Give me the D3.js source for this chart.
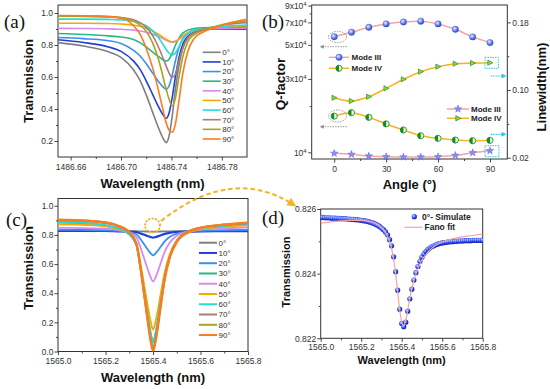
<!DOCTYPE html>
<html>
<head>
<meta charset="utf-8">
<script src="https://cdn.jsdelivr.net/npm/d3@7"></script>
<style>
  body { margin: 0; background: #fff; }
  svg { display: block; }
</style>
</head>
<body>
<script>
// ---------- data ----------
const angles = ["0°", "10°", "20°", "30°", "40°", "50°", "60°", "70°", "80°", "90°"];

// (a) transmission around 1486.74 nm, one row per angle
const lamA = [1486.650, 1486.670, 1486.690, 1486.700, 1486.710, 1486.715, 1486.720, 1486.725, 1486.729, 1486.732,
  1486.734, 1486.736, 1486.738, 1486.7405, 1486.743, 1486.746, 1486.749, 1486.753, 1486.758, 1486.765,
  1486.775, 1486.785, 1486.800];
const transA = [
  [0.815, 0.794, 0.758, 0.723, 0.644, 0.580, 0.488, 0.382, 0.297, 0.240, 0.208, 0.190, 0.226, 0.346, 0.510, 0.673, 0.779, 0.843, 0.875, 0.893, 0.900, 0.899, 0.898],
  [0.833, 0.816, 0.788, 0.760, 0.699, 0.649, 0.576, 0.493, 0.426, 0.381, 0.356, 0.342, 0.370, 0.465, 0.593, 0.721, 0.805, 0.855, 0.880, 0.894, 0.900, 0.900, 0.900],
  [0.847, 0.840, 0.827, 0.810, 0.767, 0.733, 0.683, 0.626, 0.580, 0.550, 0.533, 0.523, 0.542, 0.607, 0.695, 0.783, 0.840, 0.874, 0.892, 0.901, 0.905, 0.906, 0.908],
  [0.872, 0.866, 0.857, 0.850, 0.834, 0.815, 0.788, 0.757, 0.732, 0.715, 0.705, 0.700, 0.710, 0.746, 0.795, 0.843, 0.874, 0.893, 0.903, 0.908, 0.910, 0.912, 0.915],
  [0.904, 0.903, 0.901, 0.898, 0.893, 0.888, 0.880, 0.868, 0.856, 0.845, 0.837, 0.829, 0.822, 0.818, 0.821, 0.835, 0.855, 0.875, 0.890, 0.898, 0.902, 0.903, 0.905],
  [0.936, 0.936, 0.934, 0.931, 0.924, 0.917, 0.905, 0.888, 0.870, 0.855, 0.844, 0.834, 0.826, 0.820, 0.823, 0.838, 0.858, 0.877, 0.890, 0.900, 0.908, 0.915, 0.920],
  [0.962, 0.962, 0.960, 0.957, 0.948, 0.938, 0.920, 0.890, 0.855, 0.820, 0.795, 0.770, 0.750, 0.738, 0.748, 0.790, 0.835, 0.870, 0.890, 0.900, 0.910, 0.918, 0.925],
  [0.982, 0.981, 0.978, 0.972, 0.958, 0.940, 0.910, 0.860, 0.800, 0.745, 0.705, 0.665, 0.628, 0.597, 0.615, 0.700, 0.780, 0.845, 0.878, 0.897, 0.915, 0.930, 0.940],
  [0.980, 0.979, 0.975, 0.967, 0.948, 0.925, 0.885, 0.815, 0.730, 0.645, 0.580, 0.520, 0.465, 0.420, 0.460, 0.600, 0.725, 0.820, 0.865, 0.890, 0.915, 0.935, 0.950],
  [0.984, 0.983, 0.978, 0.970, 0.920, 0.870, 0.780, 0.660, 0.540, 0.440, 0.370, 0.310, 0.270, 0.255, 0.300, 0.450, 0.620, 0.760, 0.840, 0.880, 0.910, 0.935, 0.960]
];

// (b) Q-factor and linewidth versus angle
const angleB = [0, 10, 20, 30, 40, 50, 60, 70, 80, 90];
const qModeIII = [56500, 60400, 65000, 68400, 70400, 71200, 68400, 63100, 56300, 51700];
const qModeIV = [17200, 18100, 16900, 15300, 13970, 12820, 12330, 12020, 11900, 11970];
const lwModeIII = [0.0252, 0.0240, 0.0220, 0.0212, 0.0208, 0.0208, 0.0212, 0.0228, 0.0259, 0.0283];
const lwModeIV = [0.0909, 0.0870, 0.0921, 0.1020, 0.1127, 0.1217, 0.1276, 0.1311, 0.1319, 0.1323];

// (c) transmission around 1565.4 nm, one row per angle
const lamC = [1565.00, 1565.10, 1565.20, 1565.25, 1565.30, 1565.33, 1565.35, 1565.37, 1565.38, 1565.39, 1565.40,
  1565.41, 1565.42, 1565.43, 1565.45, 1565.47, 1565.50, 1565.55, 1565.60, 1565.70, 1565.80];
const transC = [
  [0.826, 0.826, 0.8259, 0.8259, 0.8257, 0.8253, 0.8245, 0.8235, 0.8230, 0.8226, 0.8223, 0.8226, 0.8230, 0.8234, 0.8244, 0.8250, 0.8254, 0.8257, 0.8259, 0.826, 0.826],
  [0.828, 0.828, 0.827, 0.825, 0.823, 0.819, 0.809, 0.797, 0.791, 0.786, 0.782, 0.785, 0.790, 0.796, 0.807, 0.814, 0.820, 0.823, 0.825, 0.826, 0.826],
  [0.835, 0.834, 0.832, 0.828, 0.819, 0.804, 0.765, 0.718, 0.695, 0.674, 0.660, 0.672, 0.691, 0.714, 0.758, 0.786, 0.809, 0.823, 0.828, 0.832, 0.835],
  [0.884, 0.881, 0.864, 0.845, 0.804, 0.731, 0.552, 0.332, 0.226, 0.128, 0.062, 0.119, 0.210, 0.316, 0.520, 0.651, 0.757, 0.822, 0.845, 0.862, 0.873],
  [0.848, 0.847, 0.843, 0.835, 0.817, 0.784, 0.702, 0.602, 0.554, 0.510, 0.480, 0.506, 0.547, 0.595, 0.687, 0.746, 0.795, 0.825, 0.837, 0.846, 0.852],
  [0.872, 0.870, 0.858, 0.841, 0.804, 0.740, 0.581, 0.387, 0.294, 0.208, 0.150, 0.200, 0.279, 0.372, 0.550, 0.665, 0.760, 0.816, 0.838, 0.856, 0.865],
  [0.888, 0.885, 0.867, 0.848, 0.806, 0.732, 0.552, 0.330, 0.224, 0.126, 0.060, 0.117, 0.208, 0.314, 0.519, 0.650, 0.757, 0.822, 0.846, 0.863, 0.875],
  [0.898, 0.895, 0.880, 0.860, 0.816, 0.737, 0.545, 0.309, 0.195, 0.090, 0.020, 0.081, 0.178, 0.291, 0.508, 0.647, 0.760, 0.826, 0.850, 0.869, 0.880],
  [0.902, 0.899, 0.887, 0.866, 0.821, 0.741, 0.545, 0.305, 0.190, 0.082, 0.010, 0.072, 0.170, 0.285, 0.505, 0.647, 0.761, 0.826, 0.850, 0.870, 0.883],
  [0.905, 0.900, 0.885, 0.865, 0.820, 0.740, 0.540, 0.300, 0.180, 0.070, 0.003, 0.060, 0.160, 0.280, 0.500, 0.640, 0.750, 0.820, 0.848, 0.872, 0.885]
];

// (d) 0° simulation (every 0.01 nm from 1565.00) and Fano fit
const simStart = 1565.00, simStep = 0.01;
const simT = [
  0.82574, 0.82574, 0.82573, 0.82573, 0.82573, 0.82572, 0.82572, 0.82572, 0.82571, 0.82571,
  0.82570, 0.82570, 0.82570, 0.82569, 0.82569, 0.82568, 0.82568, 0.82567, 0.82567, 0.82566,
  0.82565, 0.82564, 0.82563, 0.82562, 0.82560, 0.82558, 0.82556, 0.82553, 0.82550, 0.82546,
  0.82541, 0.82536, 0.82529, 0.82520, 0.82505, 0.82486, 0.82452, 0.82406, 0.82349, 0.82290,
  0.82246, 0.82236, 0.82250, 0.82284, 0.82322, 0.82352, 0.82380, 0.82403, 0.82422, 0.82438,
  0.82451, 0.82461, 0.82469, 0.82475, 0.82480, 0.82484, 0.82487, 0.82490, 0.82492, 0.82494,
  0.82495, 0.82496, 0.82497, 0.82498, 0.82499, 0.82499, 0.82500, 0.82500, 0.82501, 0.82501,
  0.82501, 0.82502, 0.82502, 0.82502, 0.82502, 0.82503, 0.82503, 0.82503, 0.82503, 0.82503,
  0.82503
];
const fitLam = [1565.00, 1565.05, 1565.10, 1565.15, 1565.20, 1565.25, 1565.28, 1565.30, 1565.32, 1565.34,
  1565.35, 1565.36, 1565.37, 1565.38, 1565.39, 1565.40, 1565.41, 1565.42, 1565.43, 1565.44, 1565.45,
  1565.46, 1565.48, 1565.50, 1565.53, 1565.56, 1565.60, 1565.65, 1565.70, 1565.75, 1565.80];
const fitT = [0.82556, 0.82560, 0.82563, 0.82565, 0.82565, 0.82560, 0.82553, 0.82543, 0.82527, 0.82500,
  0.82478, 0.82445, 0.82400, 0.82345, 0.82290, 0.82250, 0.82240, 0.82255, 0.82288, 0.82324, 0.82353,
  0.82378, 0.82415, 0.82442, 0.82467, 0.82484, 0.82498, 0.82508, 0.82514, 0.82518, 0.82522];

// ---------- styles ----------
const angleColors = ["#7f7f7f", "#1f3fd8", "#3a8ff0", "#25b888", "#d68af0", "#f5a800", "#22dcdc", "#ab7c74", "#a9a321", "#ff7a1e"];
const sans = "'Liberation Sans', Arial, sans-serif";
const serif = "'Liberation Serif', 'Times New Roman', serif";
const pink = "#f5a3a3", gold = "#f5b31e", cyan = "#2ec4f2";

const svg = d3.select("body").append("svg")
  .attr("width", 550).attr("height", 389)
  .attr("font-family", sans);
const defs = svg.append("defs");

function sphere(id, c0, c1, c2) {
  const g = defs.append("radialGradient").attr("id", id)
    .attr("cx", "38%").attr("cy", "35%").attr("r", "65%");
  g.append("stop").attr("offset", "0%").attr("stop-color", c0);
  g.append("stop").attr("offset", "55%").attr("stop-color", c1);
  g.append("stop").attr("offset", "100%").attr("stop-color", c2);
}
sphere("ballB", "#eef2ff", "#7088f2", "#2f46c6");
sphere("ballD", "#dde5ff", "#3050ff", "#0a1ca8");

function arrowHead(id, color, w, h) {
  defs.append("marker").attr("id", id)
    .attr("viewBox", "0 0 10 10").attr("refX", 7).attr("refY", 5)
    .attr("markerWidth", w).attr("markerHeight", h)
    .attr("markerUnits", "userSpaceOnUse").attr("orient", "auto")
    .append("path").attr("d", "M0,0 L10,5 L0,10 Z").attr("fill", color);
}
arrowHead("arrGray", "#8a8a8a", 5, 4);
arrowHead("arrCyan", cyan, 6, 5);
arrowHead("arrGold", gold, 10, 9);

let clipN = 0;
function clipFor(x, y) {
  const id = "clip" + (clipN++);
  defs.append("clipPath").attr("id", id).append("rect")
    .attr("x", x.range()[0]).attr("y", y.range()[1])
    .attr("width", x.range()[1] - x.range()[0])
    .attr("height", y.range()[0] - y.range()[1]);
  return `url(#${id})`;
}

function styleAxis(sel, fs) {
  sel.attr("font-size", fs).attr("font-family", sans);
  sel.select(".domain").remove();
  sel.selectAll(".tick line").attr("stroke", "#333").attr("stroke-width", 0.9);
  sel.selectAll(".tick text").attr("fill", "#333");
}

// frame with bottom/left ticks
function axes(x, y, o) {
  const g = svg.append("g");
  const [xl, xr] = x.range(), [yb, yt] = y.range();
  g.append("g").attr("transform", `translate(0,${yb})`)
    .call(d3.axisBottom(x).tickValues(o.xMinor).tickSize(2).tickFormat(""))
    .call(styleAxis, 8.5);
  g.append("g").attr("transform", `translate(0,${yb})`)
    .call(d3.axisBottom(x).tickValues(o.xMajor).tickSize(3.5).tickPadding(o.xPad).tickFormat(o.xFmt))
    .call(styleAxis, 8.5);
  g.append("g").attr("transform", `translate(${xl},0)`)
    .call(d3.axisLeft(y).tickValues(o.yMinor).tickSize(2).tickFormat(""))
    .call(styleAxis, 8.5);
  const left = g.append("g").attr("transform", `translate(${xl},0)`)
    .call(d3.axisLeft(y).tickValues(o.yMajor).tickSize(3.5).tickPadding(o.yPad).tickFormat(o.yFmt))
    .call(styleAxis, 8.5);
  g.append("rect").attr("x", xl).attr("y", yt)
    .attr("width", xr - xl).attr("height", yb - yt)
    .attr("fill", "none").attr("stroke", "#333").attr("stroke-width", 1);
  return left;
}

function label(txt, x, y, o = {}) {
  return svg.append("text").attr("x", x).attr("y", y)
    .attr("font-size", o.size || 13).attr("font-weight", o.weight || "bold")
    .attr("font-family", o.family || sans)
    .attr("text-anchor", o.anchor || "middle").attr("fill", o.fill || "#111")
    .attr("transform", o.rot ? `rotate(${o.rot},${x},${y})` : null)
    .text(txt);
}

function angleLegend(x0, y0, dy, lw) {
  const lg = svg.append("g");
  angles.forEach((a, i) => {
    const y = y0 + i * dy;
    lg.append("line").attr("x1", x0).attr("x2", x0 + 18).attr("y1", y).attr("y2", y)
      .attr("stroke", angleColors[i]).attr("stroke-width", lw);
    lg.append("text").attr("x", x0 + 19.5).attr("y", y + 2.9)
      .attr("font-size", 8).attr("fill", "#333").text(a);
  });
}

// ---------- (a) ----------
const xA = d3.scaleLinear().domain([1486.65, 1486.80]).range([58, 247]);
const yA = d3.scaleLinear().domain([0.1, 1.05]).range([157, 5]);
axes(xA, yA, {
  xMajor: [1486.66, 1486.70, 1486.74, 1486.78], xMinor: [1486.68, 1486.72, 1486.76],
  xFmt: d3.format(".2f"), xPad: 3,
  yMajor: [0.2, 0.4, 0.6, 0.8, 1.0], yMinor: [0.3, 0.5, 0.7, 0.9],
  yFmt: d3.format(".1f"), yPad: 1.5
});
const lineA = d3.line().x((d, i) => xA(lamA[i])).y(d => yA(d)).curve(d3.curveMonotoneX);
svg.append("g").attr("clip-path", clipFor(xA, yA))
  .selectAll("path").data(transA).join("path")
  .attr("d", lineA).attr("fill", "none")
  .attr("stroke", (d, i) => angleColors[i]).attr("stroke-width", 1.6);
angleLegend(202.7, 52.3, 9.63, 1.6);
label("Transmission", 32.7, 81, { rot: -90 });
label("Wavelength (nm)", 152.5, 188);
label("(a)", 4, 28, { family: serif, weight: "normal", size: 19, anchor: "start" });

// ---------- (b) ----------
const xB = d3.scaleLinear().domain([-13, 100]).range([311.7, 507.3]);
const yQ = d3.scaleLog().domain([9050, 90800]).range([159, 5]);
const yL = d3.scaleLinear().domain([0.0185, 0.2005]).range([159, 5]);
const leftB = axes(xB, yQ, {
  xMajor: [0, 30, 60, 90], xMinor: [15, 45, 75], xFmt: d3.format("d"), xPad: 3,
  yMajor: [1e4, 3e4, 5e4, 7e4, 9e4], yMinor: [2e4, 4e4, 6e4, 8e4],
  yFmt: d => "", yPad: 1.5
});
leftB.selectAll(".tick text").each(function (d) {
  const t = d3.select(this);
  const m = Math.round(d / 1e4);
  t.append("tspan").text(m === 1 ? "10" : `${m}x10`);
  t.append("tspan").attr("dy", "-0.45em").attr("font-size", "6px").text("4");
});
svg.append("g").attr("transform", `translate(${xB.range()[1]},0)`)
  .call(d3.axisRight(yL).tickValues([0.06, 0.14]).tickSize(2).tickFormat(""))
  .call(styleAxis, 8.5);
svg.append("g").attr("transform", `translate(${xB.range()[1]},0)`)
  .call(d3.axisRight(yL).tickValues([0.02, 0.10, 0.18]).tickSize(3.5).tickPadding(1.5).tickFormat(d3.format(".2f")))
  .call(styleAxis, 8.5);

const gB = svg.append("g").attr("clip-path", clipFor(xB, yQ));
const smooth = d3.curveCatmullRom.alpha(0.5);
function seriesLine(vals, y, color) {
  gB.append("path")
    .attr("d", d3.line().x((d, i) => xB(angleB[i])).y(d => y(d)).curve(smooth)(vals))
    .attr("fill", "none").attr("stroke", color).attr("stroke-width", 1.5);
}
seriesLine(qModeIII, yQ, pink);
seriesLine(qModeIV, yQ, gold);
seriesLine(lwModeIII, yL, pink);
seriesLine(lwModeIV, yL, gold);

function ball(g, x, y, r, fill) {
  g.append("circle").attr("cx", x).attr("cy", y).attr("r", r)
    .attr("fill", fill).attr("stroke", "#3a55d6").attr("stroke-width", 0.4);
}
function halfBall(g, x, y, r) {
  g.append("circle").attr("cx", x).attr("cy", y).attr("r", r)
    .attr("fill", "#e4f8df").attr("stroke", "#22962a").attr("stroke-width", 0.9);
  g.append("path").attr("transform", `translate(${x},${y})`)
    .attr("d", `M0,${-r} A${r},${r} 0 0 0 0,${r} Z`).attr("fill", "#1c8a24");
}
function star(g, x, y) {
  g.append("path").attr("transform", `translate(${x},${y})`)
    .attr("d", d3.symbol(d3.symbolStar, 17)())
    .attr("fill", "#8a8cf6").attr("stroke", "#5a5ee0").attr("stroke-width", 0.5);
}
function tri(g, x, y) {
  g.append("path").attr("transform", `translate(${x},${y})`)
    .attr("d", "M-2.2,-2.6 L2.8,0 L-2.2,2.6 Z")
    .attr("fill", "#8ad65a").attr("stroke", "#2e8e16").attr("stroke-width", 0.7);
}
const mB = svg.append("g");
angleB.forEach((a, i) => {
  ball(mB, xB(a), yQ(qModeIII[i]), 3.2, "url(#ballB)");
  halfBall(mB, xB(a), yQ(qModeIV[i]), 3.1);
  star(mB, xB(a), yL(lwModeIII[i]));
  tri(mB, xB(a), yL(lwModeIV[i]));
});

// legends (b)
const lgB = svg.append("g");
[[57.3, pink, "Mode III", "ball"], [68.3, gold, "Mode IV", "half"]].forEach(([y, c, t, k]) => {
  lgB.append("line").attr("x1", 329).attr("x2", 349).attr("y1", y).attr("y2", y)
    .attr("stroke", c).attr("stroke-width", 1.5);
  if (k === "ball") ball(lgB, 339, y, 3.2, "url(#ballB)"); else halfBall(lgB, 339, y, 3.1);
  lgB.append("text").attr("x", 351.5).attr("y", y + 2.9).attr("font-size", 8)
    .attr("font-weight", "bold").attr("fill", "#222").text(t);
});
[[109, pink, "Mode III", "star"], [118.3, gold, "Mode IV", "tri"]].forEach(([y, c, t, k]) => {
  lgB.append("line").attr("x1", 447).attr("x2", 469).attr("y1", y).attr("y2", y)
    .attr("stroke", c).attr("stroke-width", 1.5);
  if (k === "star") star(lgB, 458, y); else tri(lgB, 458, y);
  lgB.append("text").attr("x", 471).attr("y", y + 2.9).attr("font-size", 8)
    .attr("font-weight", "bold").attr("fill", "#222").text(t);
});

// annotations (b)
const anB = svg.append("g").attr("fill", "none");
anB.append("ellipse").attr("cx", 337.5).attr("cy", 37).attr("rx", 9).attr("ry", 5.6)
  .attr("stroke", "#8a8a8a").attr("stroke-width", 0.9).attr("stroke-dasharray", "1.4,1.2");
anB.append("ellipse").attr("cx", 337.5).attr("cy", 116).attr("rx", 9).attr("ry", 6)
  .attr("stroke", "#8a8a8a").attr("stroke-width", 0.9).attr("stroke-dasharray", "1.4,1.2");
[46.7, 126.7].forEach(y => anB.append("line").attr("x1", 347).attr("x2", 321).attr("y1", y).attr("y2", y)
  .attr("stroke", "#8a8a8a").attr("stroke-width", 0.9).attr("stroke-dasharray", "1.4,1.2")
  .attr("marker-end", "url(#arrGray)"));
[[485, 57.3, 13.3, 11], [485, 145.7, 14, 11]].forEach(([x, y, w, h]) => anB.append("rect")
  .attr("x", x).attr("y", y).attr("width", w).attr("height", h)
  .attr("stroke", cyan).attr("stroke-width", 1).attr("stroke-dasharray", "1.5,1"));
[76, 134.3].forEach(y => anB.append("line").attr("x1", 490.5).attr("x2", 505).attr("y1", y).attr("y2", y)
  .attr("stroke", cyan).attr("stroke-width", 1.2).attr("stroke-dasharray", "1.5,1")
  .attr("marker-end", "url(#arrCyan)"));

label("Q-factor", 285, 84, { rot: -90, size: 13.5 });
label("Linewidth(nm)", 545.5, 87, { rot: -90 });
label("Angle (°)", 409.5, 189);
label("(b)", 262, 28, { family: serif, weight: "normal", size: 19, anchor: "start" });

// ---------- (c) ----------
const xC = d3.scaleLinear().domain([1565.0, 1565.8]).range([58, 248]);
const yC = d3.scaleLinear().domain([0, 1.05]).range([351.5, 198.5]);
axes(xC, yC, {
  xMajor: [1565.0, 1565.2, 1565.4, 1565.6, 1565.8], xMinor: [1565.1, 1565.3, 1565.5, 1565.7],
  xFmt: d3.format(".1f"), xPad: 3,
  yMajor: [0, 0.2, 0.4, 0.6, 0.8, 1.0], yMinor: [0.1, 0.3, 0.5, 0.7, 0.9],
  yFmt: d3.format(".1f"), yPad: 1
});
const lineC = d3.line().x((d, i) => xC(lamC[i])).y(d => yC(d)).curve(d3.curveMonotoneX);
svg.append("g").attr("clip-path", clipFor(xC, yC))
  .selectAll("path").data(transC).join("path")
  .attr("d", lineC).attr("fill", "none")
  .attr("stroke", (d, i) => angleColors[i]).attr("stroke-width", (d, i) => i === 1 || i === 9 ? 2.2 : 1.8);
angleLegend(199, 242.7, 10.26, 2);
label("Transmission", 32.5, 268, { rot: -90 });
label("Wavelength (nm)", 153, 382);
label("(c)", 6, 226, { family: serif, weight: "normal", size: 19, anchor: "start" });

// zoom marker and arrow from (c) to (d)
svg.append("ellipse").attr("cx", 152.5).attr("cy", 225.5).attr("rx", 7.5).attr("ry", 7)
  .attr("fill", "none").attr("stroke", gold).attr("stroke-width", 2.2)
  .attr("stroke-linecap", "round").attr("stroke-dasharray", "0.1,3.3");
svg.append("path").attr("d", "M161,221 Q232,165 294,205")
  .attr("fill", "none").attr("stroke", gold).attr("stroke-width", 2)
  .attr("stroke-dasharray", "4.5,3").attr("marker-end", "url(#arrGold)");

// ---------- (d) ----------
const xD = d3.scaleLinear().domain([1565.0, 1565.8]).range([320.7, 482.7]);
const yD = d3.scaleLinear().domain([0.822, 0.826]).range([338.3, 209]);
axes(xD, yD, {
  xMajor: [1565.0, 1565.2, 1565.4, 1565.6, 1565.8], xMinor: [1565.1, 1565.3, 1565.5, 1565.7],
  xFmt: d3.format(".1f"), xPad: 2,
  yMajor: [0.822, 0.824, 0.826], yMinor: [0.823, 0.825],
  yFmt: d3.format(".3f"), yPad: 1
});
const gD = svg.append("g").attr("clip-path", clipFor(xD, yD));
gD.selectAll("circle").data(simT).join("circle")
  .attr("cx", (d, i) => xD(simStart + i * simStep)).attr("cy", d => yD(d))
  .attr("r", 2.6).attr("fill", "url(#ballD)");
gD.append("path")
  .attr("d", d3.line().x((d, i) => xD(fitLam[i])).y(d => yD(d)).curve(d3.curveMonotoneX)(fitT))
  .attr("fill", "none").attr("stroke", pink).attr("stroke-width", 1.2);

svg.append("circle").attr("cx", 414.3).attr("cy", 216.7).attr("r", 2.6).attr("fill", "url(#ballD)");
svg.append("text").attr("x", 422).attr("y", 219.6).attr("font-size", 8.5)
  .attr("font-weight", "bold").attr("fill", "#222").text("0°- Simulate");
svg.append("line").attr("x1", 404.5).attr("x2", 422.5).attr("y1", 227.3).attr("y2", 227.3)
  .attr("stroke", pink).attr("stroke-width", 1.2);
svg.append("text").attr("x", 424.5).attr("y", 230.2).attr("font-size", 8.5)
  .attr("font-weight", "bold").attr("fill", "#222").text("Fano fit");

label("Transmission", 290, 272, { rot: -90, size: 11 });
label("Wavelength (nm)", 401.7, 364, { size: 11 });
label("(d)", 262, 224, { family: serif, weight: "normal", size: 19, anchor: "start" });
</script>
</body>
</html>
